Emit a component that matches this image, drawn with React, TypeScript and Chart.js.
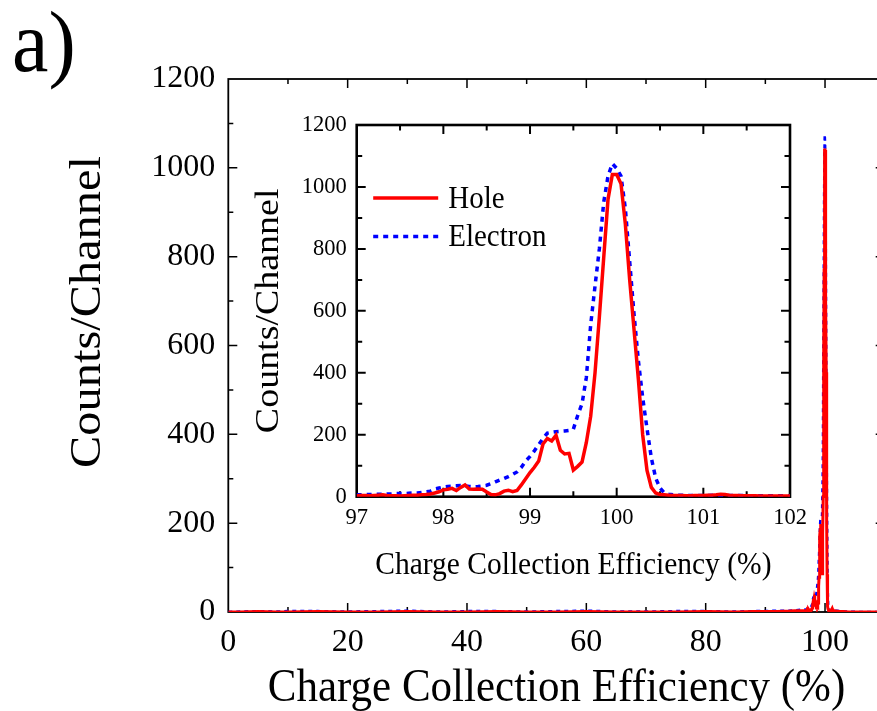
import React, { useEffect, useRef } from "react";
import { Chart, registerables } from "chart.js";

Chart.register(...registerables);

const SERIF = '"Liberation Serif", "Times New Roman", Times, serif';

// Charge collection efficiency (%) around the full-collection peak, 0.05 % bins
const CCE_FINE = [
  97.0, 97.05, 97.1, 97.15, 97.2, 97.25, 97.3, 97.35, 97.4, 97.45,
  97.5, 97.55, 97.6, 97.65, 97.7, 97.75, 97.8, 97.85, 97.9, 97.95,
  98.0, 98.05, 98.1, 98.15, 98.2, 98.25, 98.3, 98.35, 98.4, 98.45,
  98.5, 98.55, 98.6, 98.65, 98.7, 98.75, 98.8, 98.85, 98.9, 98.95,
  99.0, 99.05, 99.1, 99.15, 99.2, 99.25, 99.3, 99.35, 99.4, 99.45,
  99.5, 99.55, 99.6, 99.65, 99.7, 99.75, 99.8, 99.85, 99.9, 99.95,
  100.0, 100.05, 100.1, 100.15, 100.2, 100.25, 100.3, 100.35, 100.4, 100.45,
  100.5, 100.55, 100.6, 100.65, 100.7, 100.75, 100.8, 100.85, 100.9, 100.95,
  101.0, 101.05, 101.1, 101.15, 101.2, 101.25, 101.3, 101.35, 101.4, 101.45,
  101.5, 101.55, 101.6, 101.65, 101.7, 101.75, 101.8, 101.85, 101.9, 101.95,
  102.0,
];

// Hole-collection spectrum (counts per channel)
const HOLE_FINE = [
  3, 4, 4, 3, 4, 5, 6, 4, 3, 3,
  2, 3, 4, 5, 5, 6, 7, 9, 12, 16,
  22, 24, 27, 20, 30, 38, 25, 24, 25, 24,
  15, 7, 6, 10, 18, 21, 16, 20, 38, 58,
  78, 95, 115, 170, 188, 180, 198, 150, 138, 140,
  86, 98, 112, 175, 260, 400, 580, 770, 960, 1040,
  1040, 1010, 880, 700, 540, 380, 200, 85, 30, 12,
  7, 6, 5, 4, 4, 4, 3, 3, 4, 4,
  4, 5, 5, 6, 8, 7, 5, 4, 4, 3,
  3, 3, 3, 2, 2, 2, 2, 2, 2, 2,
  2,
];

// Electron-collection spectrum (counts per channel)
const ELECTRON_FINE = [
  6, 6, 7, 7, 8, 8, 8, 9, 9, 10,
  10, 10, 11, 12, 12, 14, 16, 18, 25, 28,
  31, 33, 34, 35, 36, 35, 33, 32, 33, 35,
  37, 42, 48, 54, 59, 65, 72, 80, 95, 115,
  130, 148, 168, 188, 205, 208, 210, 211, 212, 214,
  218, 262, 300, 385, 555, 680, 800, 950, 1035, 1075,
  1060, 1035, 930, 760, 590, 440, 320, 220, 125, 60,
  28, 12, 8, 6, 5, 5, 4, 4, 4, 4,
  4, 4, 5, 5, 5, 5, 4, 4, 4, 4,
  3, 3, 3, 3, 3, 3, 3, 3, 3, 3,
  3,
];

// Low-efficiency tail of the spectrum (coarse bins)
const CCE_LOW = [0, 2, 5, 8, 10, 15, 20, 25, 30, 35, 40, 45, 50, 55, 60, 65, 70, 75, 80, 85, 88, 90, 92, 94, 95, 96, 96.5];
const HOLE_LOW = [0, 0, 1, 0, 0, 1, 0, 0, 1, 0, 0, 1, 0, 0, 1, 0, 0, 0, 1, 0, 1, 1, 1, 2, 3, 3, 3];
const ELECTRON_LOW = [0, 1, 2, 1, 2, 2, 1, 2, 3, 1, 2, 2, 1, 2, 3, 1, 1, 2, 2, 1, 2, 2, 3, 3, 4, 5, 5];

// Above-full-collection tail
const CCE_HIGH = [102.5, 103, 104, 106, 108, 110];
const HOLE_HIGH = [1, 1, 0, 0, 0, 0];
const ELECTRON_HIGH = [2, 1, 1, 0, 0, 0];

// Axis ticks
const MAIN_X_TICKS = [0, 20, 40, 60, 80, 100];
const MAIN_X_MINOR = [10, 30, 50, 70, 90];
const MAIN_Y_TICKS = [0, 200, 400, 600, 800, 1000, 1200];
const MAIN_Y_MINOR = [100, 300, 500, 700, 900, 1100];
const INSET_X_TICKS = [97, 98, 99, 100, 101, 102];
const INSET_X_MINOR = [97.5, 98.5, 99.5, 100.5, 101.5];
const INSET_Y_TICKS = [0, 200, 400, 600, 800, 1000, 1200];
const INSET_Y_MINOR = [100, 300, 500, 700, 900, 1100];

const X_TITLE = "Charge Collection Efficiency (%)";
const Y_TITLE = "Counts/Channel";
const PANEL_LABEL = "a)";
const SERIES_NAMES = ["Hole", "Electron"];

const RED = "#ff0000";
const BLUE = "#0000ff";

const toPoints = (xs: number[], ys: number[]) => xs.map((x, i) => ({ x, y: ys[i] }));

const MAIN_HOLE = [
  ...toPoints(CCE_LOW, HOLE_LOW),
  ...toPoints(CCE_FINE, HOLE_FINE),
  ...toPoints(CCE_HIGH, HOLE_HIGH),
];
const MAIN_ELECTRON = [
  ...toPoints(CCE_LOW, ELECTRON_LOW),
  ...toPoints(CCE_FINE, ELECTRON_FINE),
  ...toPoints(CCE_HIGH, ELECTRON_HIGH),
];

function text(
  ctx: CanvasRenderingContext2D,
  str: string,
  x: number,
  y: number,
  size: number,
  stretch: number,
  vertical = false,
  align: CanvasTextAlign = "center"
) {
  ctx.save();
  ctx.translate(x, y);
  if (vertical) {
    ctx.rotate(-Math.PI / 2);
    ctx.scale(stretch, 1);
  } else {
    ctx.scale(1, stretch);
  }
  ctx.font = `${size}px ${SERIF}`;
  ctx.fillStyle = "#000";
  ctx.textAlign = align;
  ctx.textBaseline = "middle";
  ctx.fillText(str, 0, 0);
  ctx.restore();
}

// Boxed frame with inward major/minor ticks on all four sides
const framePlugin = {
  id: "frame",
  beforeDatasetsDraw(chart: any, _args: any, f: any) {
    const { ctx, chartArea: a, scales } = chart;
    const xs = scales.x;
    const ys = scales.y;
    ctx.save();
    ctx.strokeStyle = "#000";
    ctx.lineCap = "butt";
    ctx.lineWidth = f.tickWidth;
    ctx.beginPath();
    const xt = (v: number, len: number) => {
      const p = xs.getPixelForValue(v);
      if (p <= a.left + 1 || p >= a.right - 1) return;
      ctx.moveTo(p, a.bottom);
      ctx.lineTo(p, a.bottom - len);
      ctx.moveTo(p, a.top);
      ctx.lineTo(p, a.top + len);
    };
    const yt = (v: number, len: number) => {
      const p = ys.getPixelForValue(v);
      if (p <= a.top + 1 || p >= a.bottom - 1) return;
      ctx.moveTo(a.left, p);
      ctx.lineTo(a.left + len, p);
      ctx.moveTo(a.right, p);
      ctx.lineTo(a.right - len, p);
    };
    f.xMajor.forEach((v: number) => xt(v, f.majorLen));
    f.xMinor.forEach((v: number) => xt(v, f.minorLen));
    f.yMajor.forEach((v: number) => yt(v, f.majorLen));
    f.yMinor.forEach((v: number) => yt(v, f.minorLen));
    ctx.stroke();
    ctx.lineWidth = f.frameWidth;
    ctx.strokeRect(a.left, a.top, a.right - a.left, a.bottom - a.top);
    ctx.restore();
  },
};

// Axis titles, panel label and the inset legend
const labelsPlugin = {
  id: "labels",
  afterDraw(chart: any, _args: any, o: any) {
    const { ctx, chartArea: a } = chart;
    const cx = (a.left + a.right) / 2;
    text(ctx, X_TITLE, cx, a.bottom + o.xTitleOffset, o.titleSize, o.stretch);
    text(ctx, Y_TITLE, a.left - o.yTitleOffset, o.yTitleY ?? (a.top + a.bottom) / 2, o.yTitleSize, o.yStretch, true);
    if (o.panel) {
      text(ctx, PANEL_LABEL, o.panel.x, o.panel.y, o.panel.size, o.panel.stretch, false, "left");
    }
    if (o.legend) {
      const L = o.legend;
      chart.data.datasets.forEach((ds: any, i: number) => {
        const y = a.top + L.top + i * L.gap;
        ctx.save();
        ctx.strokeStyle = ds.borderColor;
        ctx.lineWidth = ds.borderWidth;
        ctx.setLineDash(ds.borderDash || []);
        ctx.beginPath();
        ctx.moveTo(a.left + L.left, y);
        ctx.lineTo(a.left + L.left + L.len, y);
        ctx.stroke();
        ctx.restore();
        text(ctx, SERIES_NAMES[i], a.left + L.left + L.len + L.textGap, y + 1.5, L.size, o.stretch, false, "left");
      });
    }
  },
};

function tickFont(size: number) {
  return { family: SERIF, size, weight: "normal" as const };
}

function fixedTicks(values: number[]) {
  return (s: any) => {
    s.ticks = values.map((v) => ({ value: v }));
  };
}

function MainChart() {
  const ref = useRef<HTMLCanvasElement | null>(null);
  useEffect(() => {
    if (!ref.current) return;
    const W = 900;
    const plotLeft = 228.3;
    const plotRight = 884.7;
    const chart = new Chart(ref.current, {
      type: "line",
      data: {
        datasets: [
          { label: SERIES_NAMES[0], data: MAIN_HOLE, borderColor: RED, borderWidth: 3, pointRadius: 0, tension: 0, fill: false },
          { label: SERIES_NAMES[1], data: MAIN_ELECTRON, borderColor: BLUE, borderWidth: 2.5, borderDash: [4, 4], pointRadius: 0, tension: 0, fill: false },
        ],
      },
      options: {
        responsive: false,
        animation: false,
        layout: { padding: { left: 0, top: 79, right: W - plotRight, bottom: 0 } },
        plugins: {
          legend: { display: false },
          tooltip: { enabled: false },
          frame: {
            xMajor: MAIN_X_TICKS, xMinor: MAIN_X_MINOR, yMajor: MAIN_Y_TICKS, yMinor: MAIN_Y_MINOR,
            majorLen: 9, minorLen: 5, frameWidth: 1.8, tickWidth: 1.5,
          },
          labels: {
            titleSize: 43, stretch: 1.1, xTitleOffset: 77,
            yTitleSize: 44, yStretch: 1.1, yTitleOffset: 140, yTitleY: 312,
            panel: { x: 12, y: 48, size: 82, stretch: 1.05 },
          },
        } as any,
        scales: {
          x: {
            type: "linear", min: 0, max: 110,
            afterBuildTicks: fixedTicks(MAIN_X_TICKS),
            afterFit: (s: any) => { s.height = 99; },
            grid: { display: false, drawTicks: false },
            border: { display: false },
            ticks: { font: tickFont(32), color: "#000", padding: 11, maxRotation: 0, autoSkip: false, callback: (v: any) => String(v) },
          },
          y: {
            type: "linear", min: 0, max: 1200,
            afterBuildTicks: fixedTicks(MAIN_Y_TICKS),
            afterFit: (s: any) => { s.width = plotLeft; },
            grid: { display: false, drawTicks: false },
            border: { display: false },
            ticks: { font: tickFont(32), color: "#000", padding: 13, autoSkip: false, callback: (v: any) => String(v) },
          },
        },
      },
      plugins: [framePlugin, labelsPlugin],
    } as any);
    return () => chart.destroy();
  }, []);
  return <canvas ref={ref} width={900} height={711} style={{ position: "absolute", left: 0, top: 0, display: "block" }} />;
}

function InsetChart() {
  const ref = useRef<HTMLCanvasElement | null>(null);
  useEffect(() => {
    if (!ref.current) return;
    const chart = new Chart(ref.current, {
      type: "line",
      data: {
        datasets: [
          { label: SERIES_NAMES[0], data: toPoints(CCE_FINE, HOLE_FINE), borderColor: RED, borderWidth: 3.5, pointRadius: 0, tension: 0, fill: false },
          { label: SERIES_NAMES[1], data: toPoints(CCE_FINE, ELECTRON_FINE), borderColor: BLUE, borderWidth: 3.5, borderDash: [5, 5], pointRadius: 0, tension: 0, fill: false },
        ],
      },
      options: {
        responsive: false,
        animation: false,
        layout: { padding: { left: 0, top: 25, right: 30, bottom: 0 } },
        plugins: {
          legend: { display: false },
          tooltip: { enabled: false },
          frame: {
            xMajor: INSET_X_TICKS, xMinor: INSET_X_MINOR, yMajor: INSET_Y_TICKS, yMinor: INSET_Y_MINOR,
            majorLen: 9, minorLen: 5.5, frameWidth: 2.6, tickWidth: 2,
          },
          labels: {
            titleSize: 29.5, stretch: 1.1, xTitleOffset: 69,
            yTitleSize: 33, yStretch: 1.15, yTitleOffset: 87,
            legend: { left: 16.5, len: 65, top: 73, gap: 38.5, textGap: 10, size: 29 },
          },
        } as any,
        scales: {
          x: {
            type: "linear", min: 97, max: 102,
            afterBuildTicks: fixedTicks(INSET_X_TICKS),
            afterFit: (s: any) => { s.height = 93.3; },
            grid: { display: false, drawTicks: false },
            border: { display: false },
            ticks: { font: tickFont(22.5), color: "#000", padding: 8, maxRotation: 0, autoSkip: false, callback: (v: any) => String(v) },
          },
          y: {
            type: "linear", min: 0, max: 1200,
            afterBuildTicks: fixedTicks(INSET_Y_TICKS),
            afterFit: (s: any) => { s.width = 116.7; },
            grid: { display: false, drawTicks: false },
            border: { display: false },
            ticks: { font: tickFont(22.5), color: "#000", padding: 10, autoSkip: false, callback: (v: any) => String(v) },
          },
        },
      },
      plugins: [framePlugin, labelsPlugin],
    } as any);
    return () => chart.destroy();
  }, []);
  return <canvas ref={ref} width={580} height={490} style={{ position: "absolute", left: 240, top: 100, display: "block" }} />;
}

export default function App() {
  return (
    <div style={{ position: "fixed", left: 0, top: 0, width: 877, height: 711, overflow: "hidden", background: "#fff" }}>
      <MainChart />
      <InsetChart />
    </div>
  );
}
